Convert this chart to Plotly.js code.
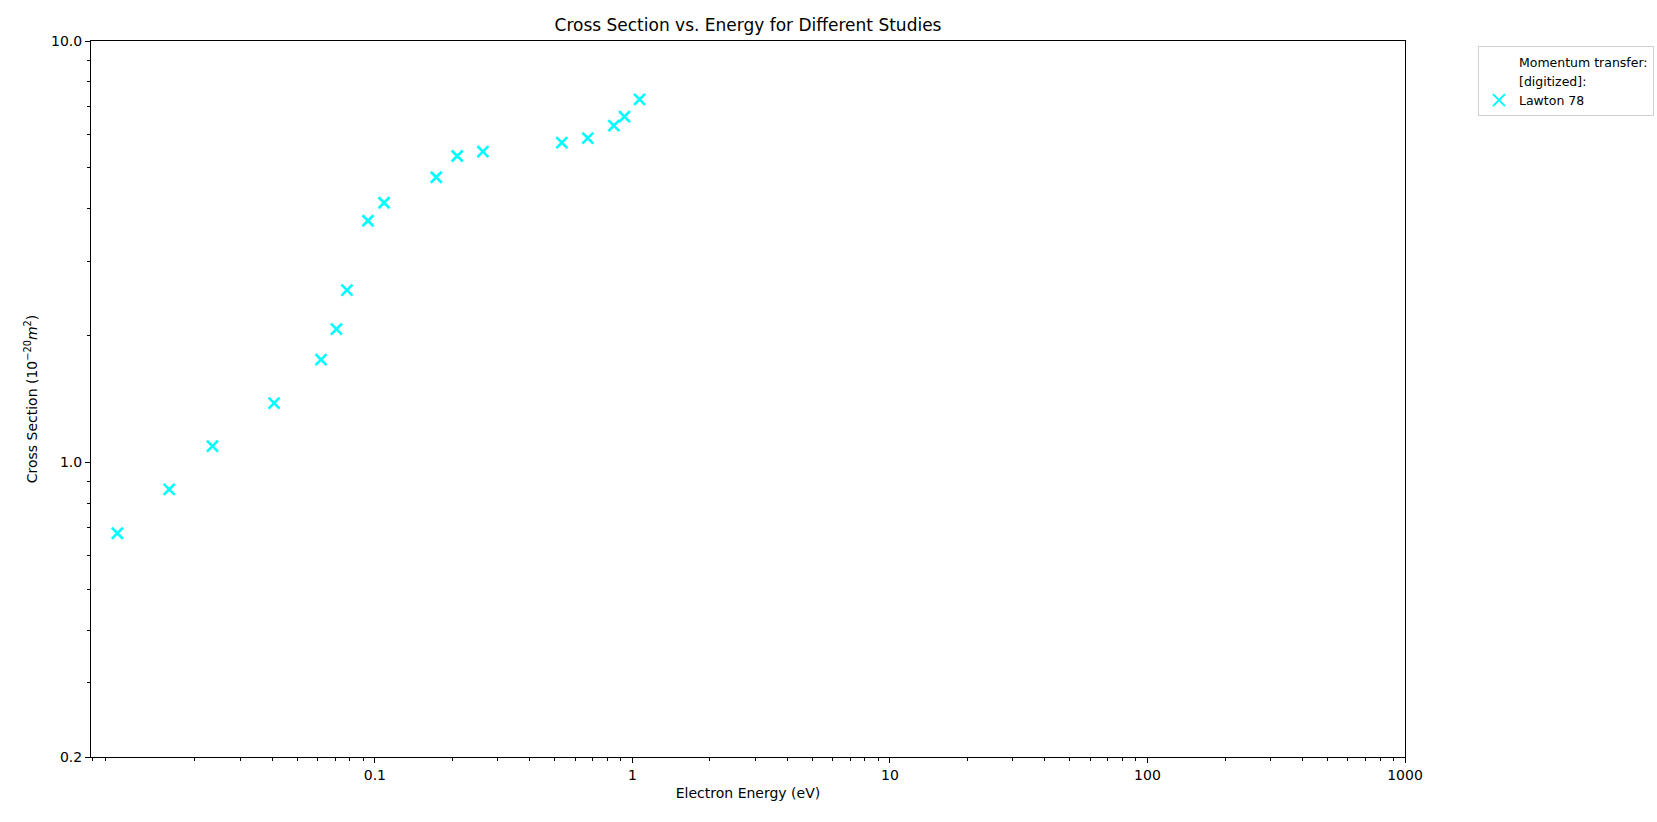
<!DOCTYPE html>
<html>
<head>
<meta charset="utf-8">
<script src="https://cdn.plot.ly/plotly-3.0.1.min.js"></script>
<style>html,body{margin:0;padding:0;background:#fff;}#chart{width:1657px;height:822px;}</style>
</head>
<body>
<div id="chart"></div>
<script>
const energy = [0.0100, 0.0159, 0.0234, 0.0406, 0.0618, 0.0709, 0.0779, 0.0940, 0.1085,
                0.1731, 0.2088, 0.2627, 0.532, 0.671, 0.847, 0.931, 1.066];
const crossSection = [0.679, 0.863, 1.093, 1.383, 1.754, 2.071, 2.563, 3.745, 4.132,
                      4.749, 5.336, 5.463, 5.740, 5.880, 6.298, 6.615, 7.271];

const xTickVals = [0.1, 1, 10, 100, 1000];
const xTickText = ['0.1', '1', '10', '100', '1000'];
const yTickVals = [0.2, 1, 10];
const yTickText = ['0.2', '1.0', '10.0'];

const xMinorVals = [];
[0.001, 0.01, 0.1, 1, 10, 100].forEach(d => { for (let k = 2; k <= 9; k++) xMinorVals.push(d * k); });
const yMinorVals = [];
[0.1, 1].forEach(d => { for (let k = 2; k <= 9; k++) yMinorVals.push(d * k); });

const legendLabels = ['Momentum transfer:', '[digitized]:', 'Lawton 78'];

const font = 'DejaVu Sans, sans-serif';

const traces = [
  { x: [null], y: [null], mode: 'markers', name: legendLabels[0],
    marker: { color: 'rgba(0,0,0,0)', size: 1 }, hoverinfo: 'skip' },
  { x: [null], y: [null], mode: 'markers', name: legendLabels[1],
    marker: { color: 'rgba(0,0,0,0)', size: 1 }, hoverinfo: 'skip' },
  { x: energy, y: crossSection, mode: 'markers', name: legendLabels[2],
    marker: { symbol: 'x-thin', size: 11, color: '#00FFFF', line: { color: '#00FFFF', width: 2.6 } } }
];

const axisCommon = {
  type: 'log', showgrid: false, zeroline: false,
  showline: true, linecolor: 'black', linewidth: 1, mirror: true,
  ticks: 'outside', ticklen: 5, tickwidth: 1, tickcolor: 'black',
  tickfont: { family: font, size: 14, color: 'black' }
};

const layout = {
  width: 1657, height: 822,
  paper_bgcolor: 'white', plot_bgcolor: 'white',
  margin: { l: 91, r: 252, t: 41, b: 65, autoexpand: false },
  font: { family: font, color: 'black' },
  title: { text: 'Cross Section vs. Energy for Different Studies', font: { family: font, size: 17, color: 'black' },
           x: 0.5, xref: 'paper', y: 1 - 25 / 822, yref: 'container', yanchor: 'middle' },
  xaxis: Object.assign({}, axisCommon, {
    range: [Math.log10(0.0079), 3],
    tickmode: 'array', tickvals: xTickVals, ticktext: xTickText,
    minor: { tickmode: 'array', tickvals: xMinorVals, ticks: 'outside', ticklen: 3, tickwidth: 1, tickcolor: 'black', showgrid: false },
    title: { text: 'Electron Energy (eV)', font: { family: font, size: 14, color: 'black' }, standoff: 6 },
    automargin: false
  }),
  yaxis: Object.assign({}, axisCommon, {
    range: [Math.log10(0.2), 1],
    tickmode: 'array', tickvals: yTickVals, ticktext: yTickText,
    minor: { tickmode: 'array', tickvals: yMinorVals, ticks: 'outside', ticklen: 3, tickwidth: 1, tickcolor: 'black', showgrid: false },
    title: { text: 'Cross Section (10<sup>−20</sup><i>m</i><sup>2</sup>)', font: { family: font, size: 14, color: 'black' }, standoff: 10 },
    automargin: false
  }),
  showlegend: true,
  legend: {
    x: (1478 - 91) / 1314, y: (757 - 46) / 716, xanchor: 'left', yanchor: 'top',
    bgcolor: 'white', bordercolor: '#d0d0d0', borderwidth: 1,
    font: { family: font, size: 12.5, color: 'black' },
    tracegroupgap: 0, itemsizing: 'constant'
  }
};

Plotly.newPlot('chart', traces, layout, { displayModeBar: false, staticPlot: true });
</script>
</body>
</html>
